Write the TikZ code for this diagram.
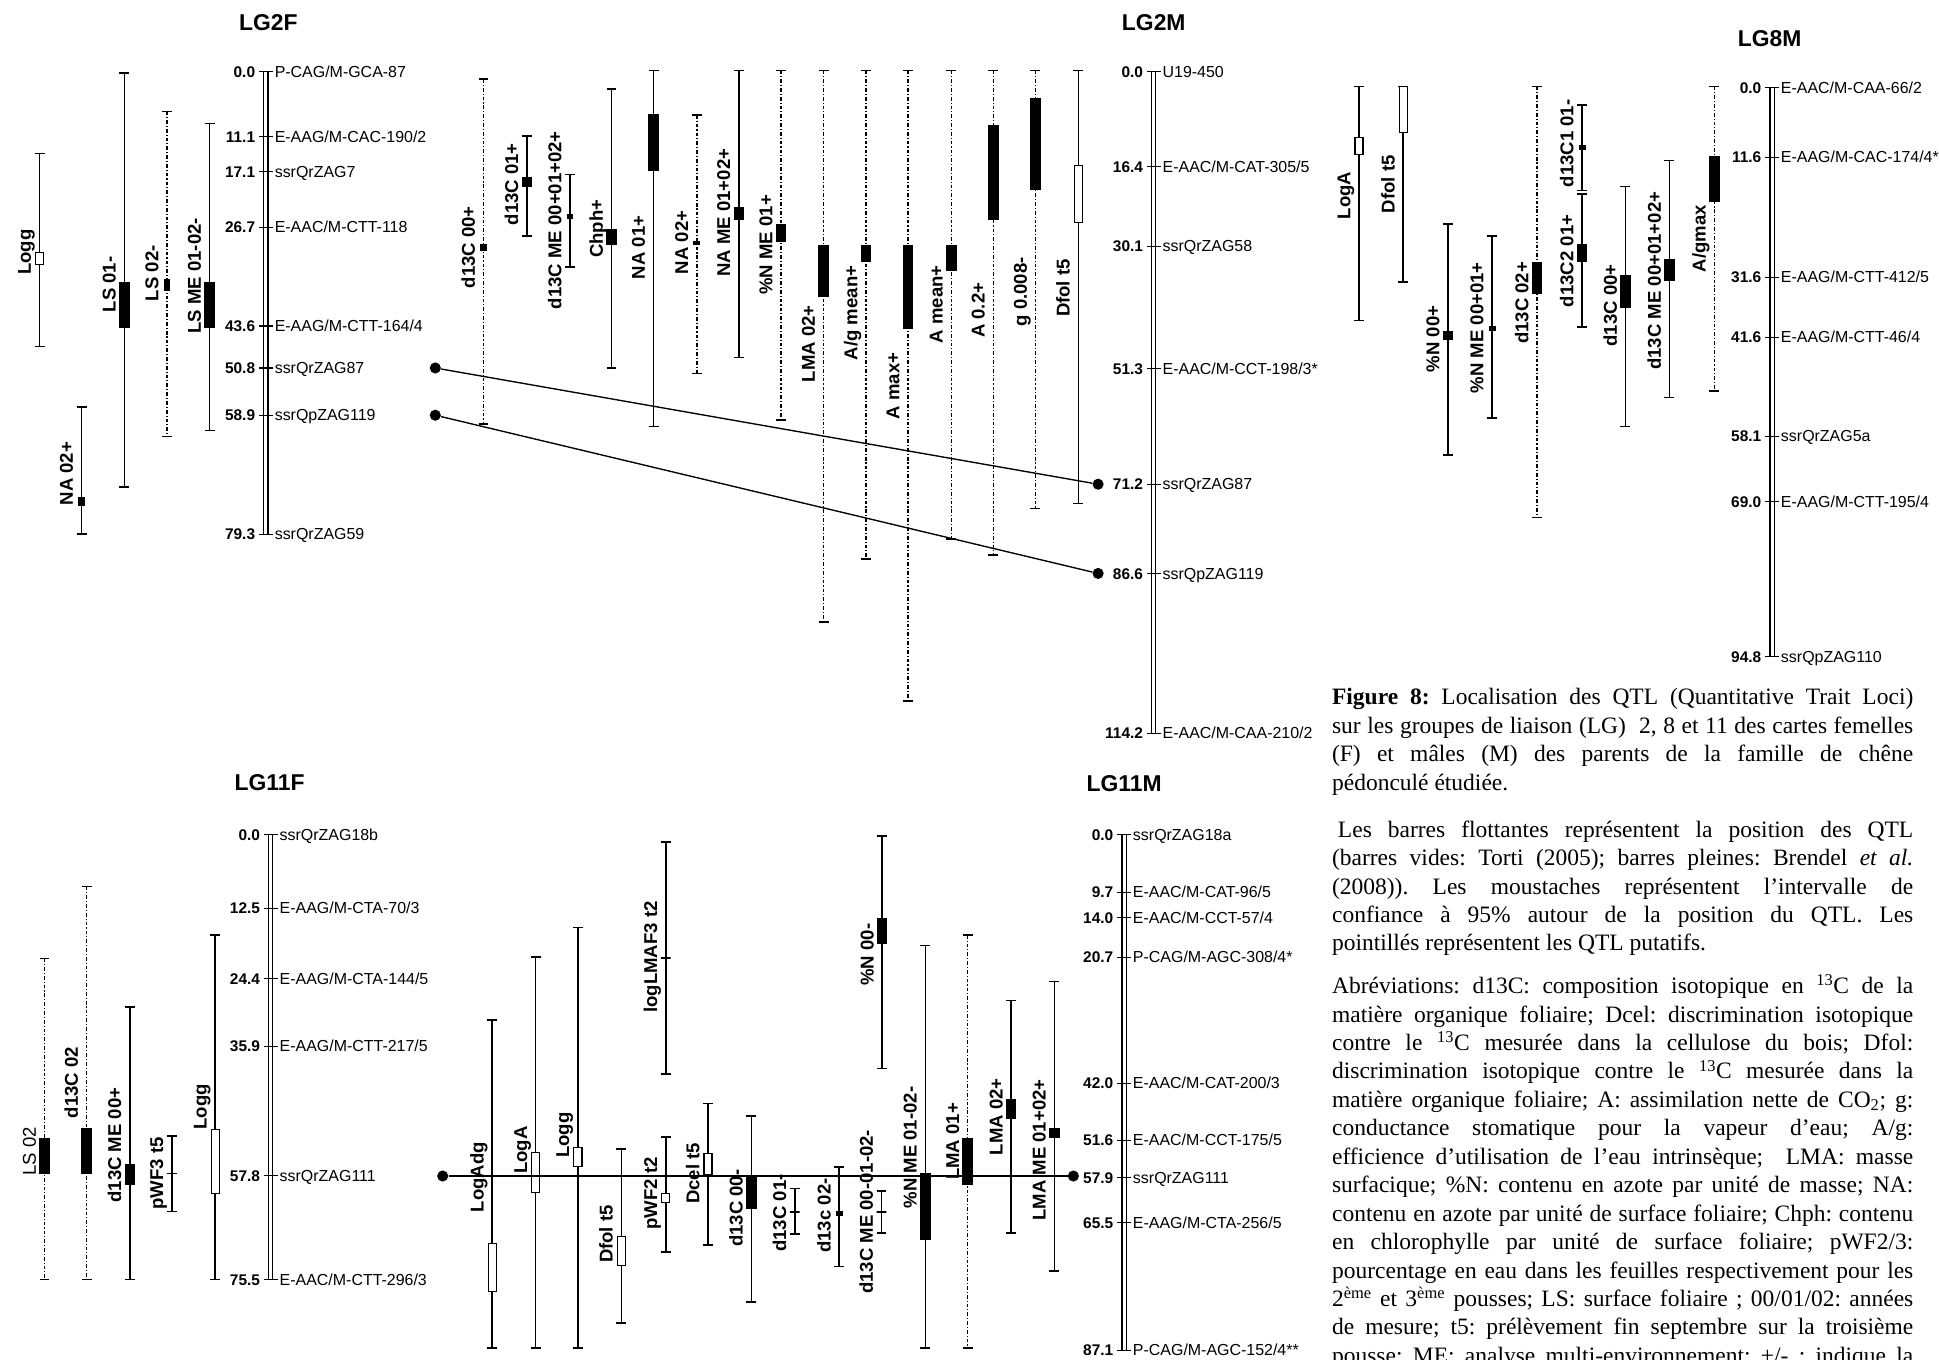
\documentclass[tikz,border=0pt]{standalone}
\usepackage{fontspec}
\setmainfont{Liberation Sans}
\newfontfamily\capfont{Liberation Serif}

\tikzset{
  qline/.style={line width=1.2pt},
  putative/.style={dash pattern=on 3pt off 1.6pt on 0.9pt off 1.6pt},
  qcap/.style={line width=1.2pt},
  fbox/.style={fill=black, minimum width=8.5pt, inner sep=0pt},
  obox/.style={draw, line width=1pt, fill=white, minimum width=6.5pt, inner sep=0pt},
  pbox/.style={fill=black, minimum width=5.5pt, inner sep=0pt},
  tbox/.style={draw, line width=1.2pt, minimum width=8pt, inner sep=0pt},
  qlab/.style={font=\bfseries\fontsize{15}{15}\selectfont, rotate=90, anchor=base, inner sep=0pt},
  mapline/.style={line width=0.9pt},
  poslab/.style={font=\bfseries\fontsize{12.5}{12.5}\selectfont, anchor=base east, inner sep=0pt},
  mklab/.style={font=\fontsize{12.9}{12.9}\selectfont, anchor=base west, inner sep=0pt},
  lgtitle/.style={font=\bfseries\fontsize{18.5}{18.5}\selectfont},
  dot/.style={circle, fill=black, inner sep=0pt, minimum size=9pt},
  link/.style={line width=1.1pt},
}

% one QTL: [line style]{x}{top}{bottom}{box style}{box top}{box bottom}{label y}{label}
\newcounter{qtlno}
\newcommand{\qtl}[9][]{%
  \stepcounter{qtlno}%
  \draw[qline,#1] (#2,#3) -- (#2,#4);
  \draw[qcap] ({#2-4},#3) -- ({#2+4},#3) ({#2-4},#4) -- ({#2+4},#4);
  \node[#5, minimum height={(#7)-(#6)}] (qb\arabic{qtlno}) at (#2,{((#6)+(#7))/2}) {};
  \node[qlab] (ql\arabic{qtlno}) at ({#2-7},#8) {#9};
}

% linkage group: {x}{y of 0 cM}{px per cM}{length}
\newcommand{\lgmap}[4]{%
  \def\mapx{#1}\def\mapy{#2}\def\maps{#3}%
  \draw[mapline] ({#1-1.7},#2) -- ({#1-1.7},{#2+#3*#4}) ({#1+1.7},#2) -- ({#1+1.7},{#2+#3*#4});
}
% marker: {name}{cM}{marker}
\newcommand{\mkr}[3]{%
  \draw[mapline] ({\mapx-5.5},{\mapy+\maps*#2}) -- ({\mapx+5.5},{\mapy+\maps*#2});
  \node[poslab] (#1p) at ({\mapx-8.5},{\mapy+\maps*#2+4.5}) {#2};
  \node[mklab] (#1n) at ({\mapx+7},{\mapy+\maps*#2+4.5}) {#3};
}
\newcommand{\capline}[1]{\hbox to\hsize{#1}}
\newcommand{\caplast}[1]{\hbox{#1}}

\begin{document}
\begin{tikzpicture}[x=1pt, y=-1pt]
\useasboundingbox (0,0) rectangle (1568,1099);

% ---- LG2F
\node[lgtitle] (t2f) at (217,18) {LG2F};
\lgmap{215}{58}{4.716}{79.3}
\mkr{f2a}{0.0}{P-CAG/M-GCA-87}
\mkr{f2b}{11.1}{E-AAG/M-CAC-190/2}
\mkr{f2c}{17.1}{ssrQrZAG7}
\mkr{f2d}{26.7}{E-AAC/M-CTT-118}
\mkr{f2e}{43.6}{E-AAG/M-CTT-164/4}
\mkr{f2f}{50.8}{ssrQrZAG87}
\mkr{f2g}{58.9}{ssrQpZAG119}
\mkr{f2h}{79.3}{ssrQrZAG59}

\qtl{32}{124}{280}{obox}{204}{214}{204}{Logg}
\qtl{66}{329}{432}{pbox}{402}{409}{383}{NA 02+}
\qtl{100.5}{59}{394}{fbox}{228}{265}{230}{LS 01-}
\qtl[putative]{135}{90}{353}{pbox}{226}{235}{221}{LS 02-}
\qtl{169.5}{100}{348}{fbox}{228}{265}{223}{LS ME 01-02-}

% ---- QTLs left of LG2M
\qtl[putative]{391}{64}{343}{pbox}{197}{203}{200}{d13C 00+}
\qtl{426}{110}{191}{fbox}{143}{151}{149}{d13C 01+}
\qtl{461}{141}{216}{pbox}{173}{177}{178}{d13C ME 00+01+02+}
\qtl{494.5}{72}{297.5}{fbox}{185.5}{198.5}{185}{Chph+}
\qtl{528.5}{57}{345}{fbox}{92}{138}{200}{NA 01+}
\qtl[putative]{563.5}{93}{302}{pbox}{195}{198.5}{196}{NA 02+}
\qtl{597.5}{57}{289}{fbox}{167}{178}{172}{NA ME 01+02+}
\qtl[putative]{631.5}{57}{339.5}{fbox}{181}{195.5}{198}{\%N ME 01+}
\qtl[putative]{666}{57}{503}{fbox}{198}{240}{278}{LMA 02+}
\qtl[putative]{700.3}{57}{452}{fbox}{198}{211.5}{253}{A/g mean+}
\qtl[putative]{734.3}{57}{567}{fbox}{198}{266}{312}{A max+}
\qtl[putative]{769.3}{57}{436}{fbox}{198}{219.5}{246}{A mean+}
\qtl[putative]{803.3}{57}{449}{fbox}{101}{178}{251}{A 0.2+}
\qtl[putative]{837.3}{57}{411}{fbox}{79}{154}{236}{g 0.008-}
\qtl{872}{57}{407}{obox}{133.6}{180}{233}{Dfol t5}

% ---- LG2M
\node[lgtitle] (t2m) at (933,18) {LG2M};
\lgmap{933}{58}{4.685}{114.2}
\mkr{m2a}{0.0}{U19-450}
\mkr{m2b}{16.4}{E-AAC/M-CAT-305/5}
\mkr{m2c}{30.1}{ssrQrZAG58}
\mkr{m2d}{51.3}{E-AAC/M-CCT-198/3*}
\mkr{m2e}{71.2}{ssrQrZAG87}
\mkr{m2f}{86.6}{ssrQpZAG119}
\mkr{m2g}{114.2}{E-AAC/M-CAA-210/2}

% common markers LG2F - LG2M
\node[dot] (f2d1) at (352,{58+4.716*50.8}) {};
\node[dot] (f2d2) at (352,{58+4.716*58.9}) {};
\node[dot] (m2d1) at (888,{58+4.685*71.2}) {};
\node[dot] (m2d2) at (888,{58+4.685*86.6}) {};
\draw[link] (f2d1) -- (m2d1);
\draw[link] (f2d2) -- (m2d2);

% ---- QTLs left of LG8M
\qtl{1099}{70}{259}{obox}{111}{125}{158}{LogA}
\qtl{1134.7}{70}{228}{obox}{70}{107}{149}{Dfol t5}
\qtl{1171}{181}{368}{fbox}{268}{275}{274}{\%N 00+}
\qtl{1206.6}{191}{338}{pbox}{263.5}{267.5}{265}{\%N ME 00+01+}
\qtl[putative]{1243}{70}{418.6}{fbox}{212}{237.6}{245}{d13C 02+}
\qtl{1279.4}{85}{154}{pbox}{117}{121}{116}{d13C1 01-}
\qtl{1279.4}{157}{264.5}{fbox}{197.6}{211.6}{211}{d13C2 01+}
\qtl{1314.4}{151}{345}{fbox}{222}{249}{247}{d13C 00+}
\qtl{1350}{130}{321.5}{fbox}{209.7}{227}{227}{d13C ME 00+01+02+}
\qtl[putative]{1386.3}{70}{316}{fbox}{126}{163}{193}{A/gmax}

% ---- LG8M
\node[lgtitle] (t8m) at (1431,31) {LG8M};
\lgmap{1433}{71}{4.852}{94.8}
\mkr{m8a}{0.0}{E-AAC/M-CAA-66/2}
\mkr{m8b}{11.6}{E-AAG/M-CAC-174/4*}
\mkr{m8c}{31.6}{E-AAG/M-CTT-412/5}
\mkr{m8d}{41.6}{E-AAG/M-CTT-46/4}
\mkr{m8e}{58.1}{ssrQrZAG5a}
\mkr{m8f}{69.0}{E-AAG/M-CTT-195/4}
\mkr{m8g}{94.8}{ssrQpZAG110}

% ---- LG11F
\node[lgtitle] (t11f) at (218,633) {LG11F};
\lgmap{219}{675}{4.768}{75.5}
\mkr{f11a}{0.0}{ssrQrZAG18b}
\mkr{f11b}{12.5}{E-AAG/M-CTA-70/3}
\mkr{f11c}{24.4}{E-AAG/M-CTA-144/5}
\mkr{f11d}{35.9}{E-AAG/M-CTT-217/5}
\mkr{f11e}{57.8}{ssrQrZAG111}
\mkr{f11f}{75.5}{E-AAC/M-CTT-296/3}

\qtl[putative]{36}{775}{1034.5}{fbox}{920}{949}{931}{\mdseries LS 02}
\qtl[putative]{70}{717}{1034.5}{fbox}{912.5}{949}{875.5}{d13C 02}
\qtl{105}{814.5}{1034.5}{fbox}{941}{958}{926}{d13C ME 00+}
\qtl{139}{918.7}{979.5}{tbox}{949}{949}{949}{pWF3 t5}
\qtl{174}{756}{1034.5}{obox}{913.5}{965}{895}{Logg}

% ---- QTLs left of LG11M
\qtl{398}{825}{1090}{obox}{1005.7}{1044.6}{952}{LogAdg}
\qtl{433.2}{774}{1090}{obox}{932}{964.4}{930}{LogA}
\qtl{467.3}{750}{1090}{obox}{928}{943}{918}{Logg}
\qtl{502.5}{929}{1070}{obox}{999.6}{1023.5}{998}{Dfol t5}
\qtl{538.4}{681}{868.5}{tbox}{774.6}{774.6}{774}{logLMAF3 t2}
\qtl{538.4}{919.4}{1012.5}{obox}{965}{972.7}{965}{pWF2 t2}
\qtl{572.6}{892.4}{1006.7}{obox}{933}{950}{949}{Dcel t5}
\qtl{607.5}{902.5}{1053}{fbox}{950.6}{978}{977}{d13C 00-}
\qtl{642.7}{961}{998}{tbox}{980}{980}{981}{d13C 01-}
\qtl{678.6}{943.6}{1024}{pbox}{979}{983}{983}{d13c 02-}
\qtl{712.8}{963}{997}{tbox}{980}{980}{980}{d13C ME 00-01-02-}
\qtl{713.4}{676}{864}{fbox}{742.3}{763}{772}{\%N 00-}
\qtl{748.3}{764.4}{1090}{fbox}{948.5}{1002.7}{928}{\%N ME 01-02-}
\qtl[putative]{782.5}{756}{1090}{fbox}{920}{958}{923}{LMA 01+}
\qtl{817.7}{809}{997}{fbox}{888.7}{904.7}{903}{LMA 02+}
\qtl{852.6}{793.8}{1027.8}{fbox}{912}{920}{930}{LMA ME 01+02+}

% ---- LG11M
\node[lgtitle] (t11m) at (909,634) {LG11M};
\lgmap{909}{675}{4.788}{87.1}
\mkr{m11a}{0.0}{ssrQrZAG18a}
\mkr{m11b}{9.7}{E-AAC/M-CAT-96/5}
\mkr{m11c}{14.0}{E-AAC/M-CCT-57/4}
\mkr{m11d}{20.7}{P-CAG/M-AGC-308/4*}
\mkr{m11e}{42.0}{E-AAC/M-CAT-200/3}
\mkr{m11f}{51.6}{E-AAC/M-CCT-175/5}
\mkr{m11g}{57.9}{ssrQrZAG111}
\mkr{m11h}{65.5}{E-AAG/M-CTA-256/5}
\mkr{m11i}{87.1}{P-CAG/M-AGC-152/4**}

% common marker LG11F - LG11M
\node[dot] (f11d) at (358,951) {};
\node[dot] (m11d) at (868,951) {};
\draw[link, line width=1.4pt] (f11d) -- (m11d);

% ---- caption
\node[anchor=base west, inner sep=0pt] (cap) at (1077,570) {\vtop{\hsize=470pt
  \capfont\fontsize{19}{23}\selectfont\frenchspacing
  \capline{\textbf{Figure 8:} Localisation des QTL (Quantitative Trait Loci)}
  \capline{sur les groupes de liaison (LG)~ 2, 8 et 11 des cartes femelles}
  \capline{(F) et mâles (M) des parents de la famille de chêne}
  \caplast{pédonculé étudiée.}
  \vskip 15pt
  \capline{\hspace{0.25em}Les barres flottantes représentent la position des QTL}
  \capline{(barres vides: Torti (2005); barres pleines: Brendel \textit{et al.}}
  \capline{(2008)). Les moustaches représentent l’intervalle de}
  \capline{confiance à 95\% autour de la position du QTL. Les}
  \caplast{pointillés représentent les QTL putatifs.}
  \vskip 11.5pt
  \capline{Abréviations: d13C: composition isotopique en \textsuperscript{13}C de la}
  \capline{matière organique foliaire; Dcel: discrimination isotopique}
  \capline{contre le \textsuperscript{13}C mesurée dans la cellulose du bois; Dfol:}
  \capline{discrimination isotopique contre le \textsuperscript{13}C mesurée dans la}
  \capline{matière organique foliaire; A: assimilation nette de CO\textsubscript{2}; g:}
  \capline{conductance stomatique pour la vapeur d’eau; A/g:}
  \capline{efficience d’utilisation de l’eau intrinsèque;~ LMA: masse}
  \capline{surfacique; \%N: contenu en azote par unité de masse; NA:}
  \capline{contenu en azote par unité de surface foliaire; Chph: contenu}
  \capline{en chlorophylle par unité de surface foliaire; pWF2/3:}
  \capline{pourcentage en eau dans les feuilles respectivement pour les}
  \capline{2\textsuperscript{ème} et 3\textsuperscript{ème} pousses; LS: surface foliaire ; 00/01/02: années}
  \capline{de mesure; t5: prélèvement fin septembre sur la troisième}
  \capline{pousse; ME: analyse multi-environnement; +/- : indique la}
}};
\end{tikzpicture}
\end{document}
